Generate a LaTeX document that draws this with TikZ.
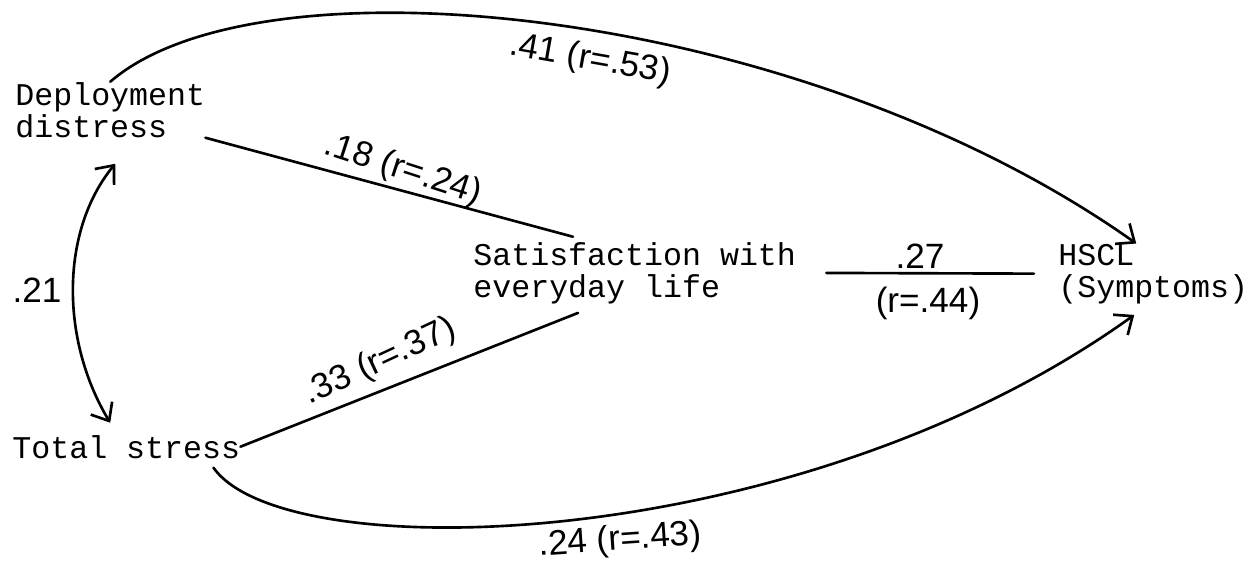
\documentclass[tikz,border=0pt]{standalone}
\usepackage{fontspec}
\setmonofont{Liberation Mono}
\newfontfamily\handfont{Liberation Sans}
\usetikzlibrary{arrows.meta,positioning,calc}

\begin{document}
\begin{tikzpicture}[x=0.02cm,y=-0.02cm,
  >={Straight Barb[length=3mm,width=5mm]},
  var/.style={font=\ttfamily\fontsize{18}{18.2}\selectfont,align=left,inner sep=0pt,anchor=base west},
  coef/.style={font=\handfont\fontsize{20}{20}\selectfont,inner sep=0pt},
  link/.style={line width=1.5pt,line cap=round}]
\useasboundingbox (0,0) rectangle (1252,565);
% variables
\node[var] (dep) at (15,137) {Deployment\\distress};
\node[var] (tot) at (12,458) {Total stress};
\node[var] (sat) at (473,297) {Satisfaction with\\everyday life};
\node[var] (hscl) at (1058,297) {HSCL\\(Symptoms)};
% paths
\draw[link,->] (dep.north) .. controls +(150,-130) and +(-336,-238) .. ([xshift=-0.34cm]hscl.north);
\draw[link,->] ([shift={(-27,9)}]tot.south east) .. controls +(72,102) and +(-334,240) .. ([shift={(-19,11)}]hscl.south);
\draw[link,<->] ([shift={(5,26)}]dep.south) .. controls +(-55,67) and +(-50,-83) .. ([shift={(-16,-12)}]tot.north);
\draw[link] (dep.south east) -- ([shift={(100,-5)}]sat.north west);
\draw[link] (tot.east) -- ([shift={(105,9)}]sat.south west);
\draw[link,shorten <=0.6cm,shorten >=0.48cm] (sat.east) -- (hscl.west);
% coefficients
\node[coef,rotate=-10] (c1) at (590,60) {.41 (r=.53)};
\node[coef,rotate=-18] (c2) at (403,170) {.18 (r=.24)};
\node[coef,rotate=25] (c3) at (380,362) {.33 (r=.37)};
\node[coef] (c4) at (920,256) {.27};
\node[coef] (c5) at (928,303) {(r=.44)};
\node[coef] (c6) at (37,290) {.21};
\node[coef,rotate=4] (c7) at (620,541) {.24 (r=.43)};
\end{tikzpicture}
\end{document}
